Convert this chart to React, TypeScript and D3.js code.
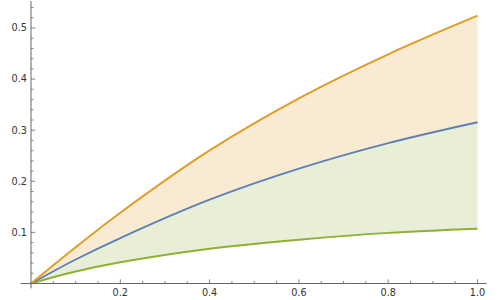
import React from "react";
import * as d3 from "d3";

const xs = [0, 0.1, 0.2, 0.4, 0.6, 0.8, 1.0];
const upperSeries = [0, 0.071, 0.1386, 0.2605, 0.3624, 0.4485, 0.524];
const middleSeries = [0, 0.047, 0.089, 0.164, 0.2247, 0.2746, 0.3155];
const lowerSeries = [0, 0.0235, 0.0415, 0.068, 0.0857, 0.099, 0.107];

const xTickLabels = ["0.2", "0.4", "0.6", "0.8", "1.0"];
const yTickLabels = ["0.1", "0.2", "0.3", "0.4", "0.5"];

const ORANGE = "#e09c24";
const BLUE = "#5e81b5";
const GREEN = "#8fb032";
const AXIS = "#666666";

export default function App() {
  const W = 500, H = 300;
  const x = d3.scaleLinear().domain([0, 1]).range([31, 477.5]);
  const y = d3.scaleLinear().domain([0, 0.5]).range([283.5, 28]);

  const pts = xs.map((v, i) => ({ x: v, u: upperSeries[i], m: middleSeries[i], l: lowerSeries[i] }));
  const curve = d3.curveCatmullRom.alpha(0.5);

  const areaUM = d3.area<any>().x(d => x(d.x)).y0(d => y(d.m)).y1(d => y(d.u)).curve(curve)(pts) || "";
  const areaML = d3.area<any>().x(d => x(d.x)).y0(d => y(d.l)).y1(d => y(d.m)).curve(curve)(pts) || "";
  const line = (key: "u" | "m" | "l") =>
    d3.line<any>().x(d => x(d.x)).y(d => y(d[key])).curve(curve)(pts) || "";

  const xMinor = d3.range(1, 21).map(i => i * 0.05).filter(v => Math.abs(v * 5 - Math.round(v * 5)) > 1e-6);
  const yMinor = d3.range(1, 28).map(i => i * 0.02).filter(v => Math.abs(v * 10 - Math.round(v * 10)) > 1e-6);

  const x0 = x(0), y0 = y(0);

  return (
    <svg width={W} height={H} style={{ position: "absolute", left: 0, top: 0 }} fontFamily="DejaVu Sans" fontSize={9.7}>
      <path d={areaUM} fill={ORANGE} fillOpacity={0.2} stroke="none" />
      <path d={areaML} fill={GREEN} fillOpacity={0.2} stroke="none" />
      <path d={line("l")} fill="none" stroke={GREEN} strokeWidth={1.9} />
      <path d={line("m")} fill="none" stroke={BLUE} strokeWidth={1.9} />
      <path d={line("u")} fill="none" stroke={ORANGE} strokeWidth={1.9} />

      {/* axes */}
      <line x1={20.7} x2={486.7} y1={y0} y2={y0} stroke={AXIS} strokeWidth={1} />
      <line x1={x0} x2={x0} y1={1} y2={288.3} stroke={AXIS} strokeWidth={1} />

      {xMinor.map(v => (
        <line key={"xm" + v} x1={x(v)} x2={x(v)} y1={y0} y2={y0 - 2.5} stroke={AXIS} strokeWidth={0.8} />
      ))}
      {xTickLabels.map(t => (
        <g key={"xt" + t}>
          <line x1={x(+t)} x2={x(+t)} y1={y0} y2={y0 - 4.2} stroke={AXIS} strokeWidth={0.8} />
          <text x={x(+t)} y={y0 + 12} textAnchor="middle" fill="#333">{t}</text>
        </g>
      ))}
      {yMinor.map(v => (
        <line key={"ym" + v} x1={x0} x2={x0 + 2.5} y1={y(v)} y2={y(v)} stroke={AXIS} strokeWidth={0.8} />
      ))}
      {yTickLabels.map(t => (
        <g key={"yt" + t}>
          <line x1={x0} x2={x0 + 4.2} y1={y(+t)} y2={y(+t)} stroke={AXIS} strokeWidth={0.8} />
          <text x={x0 - 4} y={y(+t)} dy="0.35em" textAnchor="end" fill="#333">{t}</text>
        </g>
      ))}
    </svg>
  );
}
